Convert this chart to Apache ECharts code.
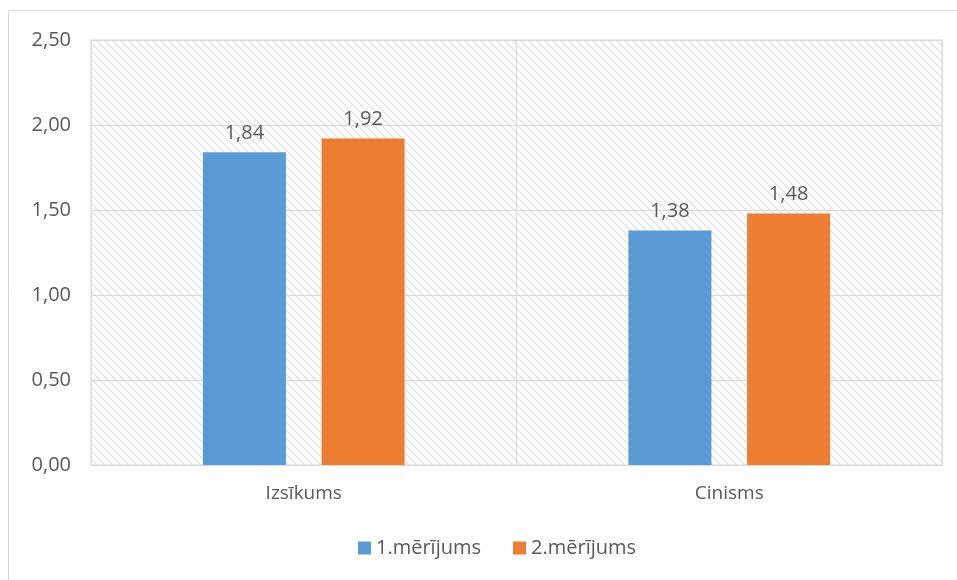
<!DOCTYPE html>
<html>
<head>
<meta charset="utf-8">
<script src="https://cdn.jsdelivr.net/npm/echarts@6/dist/echarts.min.js"></script>
<style>
  html, body { margin: 0; padding: 0; background: #fff; }
  #chart { width: 957px; height: 580px; }
</style>
</head>
<body>
<div id="chart"></div>
<script>
const categories = ['Izsīkums', 'Cinisms'];
const series1 = [1.84, 1.38];
const series2 = [1.92, 1.48];
const seriesNames = ['1.mērījums', '2.mērījums'];

// hatch pattern for plot background
const pat = document.createElement('canvas');
pat.width = 8; pat.height = 8;
const ctx = pat.getContext('2d');
ctx.fillStyle = '#ffffff';
ctx.fillRect(0, 0, 8, 8);
ctx.strokeStyle = '#e2e2e2';
ctx.lineWidth = 1.3;
ctx.beginPath();
ctx.moveTo(-2, -2); ctx.lineTo(10, 10);
ctx.moveTo(-10, -2); ctx.lineTo(2, 10);
ctx.moveTo(6, -2); ctx.lineTo(18, 10);
ctx.stroke();

const fmt = v => v.toFixed(2).replace('.', ',');
const font = '"Open Sans", "DejaVu Sans", sans-serif';

let myChart = echarts.init(document.getElementById('chart'));
myChart.setOption({
  animation: false,
  textStyle: { fontFamily: font },
  graphic: [{
    type: 'rect',
    shape: { x: 8.5, y: 10.5, width: 1000, height: 1000 },
    style: { fill: 'none', stroke: '#d9d9d9', lineWidth: 1 },
    silent: true
  }],
  grid: {
    left: 91, top: 40, right: 15, bottom: 115,
    show: true,
    backgroundColor: { image: pat, repeat: 'repeat' },
    borderColor: '#d9d9d9',
    borderWidth: 1
  },
  legend: {
    bottom: 17,
    left: 353,
    itemWidth: 13,
    itemHeight: 13,
    itemGap: 32,
    icon: 'rect',
    textStyle: { color: '#595959', fontSize: 20, fontFamily: font },
    data: seriesNames
  },
  xAxis: {
    type: 'category',
    data: categories,
    axisLine: { show: true, lineStyle: { color: '#d9d9d9' } },
    axisTick: { show: false },
    splitLine: { show: true, lineStyle: { color: '#d9d9d9' } },
    axisLabel: { color: '#595959', fontSize: 19, margin: 19, fontFamily: font }
  },
  yAxis: {
    type: 'value',
    min: 0, max: 2.5, interval: 0.5,
    axisLine: { show: false },
    axisTick: { show: false },
    splitLine: { lineStyle: { color: '#d9d9d9' } },
    axisLabel: { color: '#595959', fontSize: 20, margin: 20, formatter: fmt, fontFamily: font }
  },
  series: [{
    name: seriesNames[0],
    type: 'bar',
    data: series1,
    barWidth: 83,
    barGap: '43%',
    itemStyle: { color: '#5b9bd5' },
    label: { show: true, position: 'top', distance: 9, color: '#595959', fontSize: 20, formatter: p => fmt(p.value), fontFamily: font }
  }, {
    name: seriesNames[1],
    type: 'bar',
    data: series2,
    barWidth: 83,
    barGap: '43%',
    itemStyle: { color: '#ed7d31' },
    label: { show: true, position: 'top', distance: 9, color: '#595959', fontSize: 20, formatter: p => fmt(p.value), fontFamily: font }
  }]
});

window.addEventListener('resize', function() {
  myChart.resize();
});
</script>
</body>
</html>
